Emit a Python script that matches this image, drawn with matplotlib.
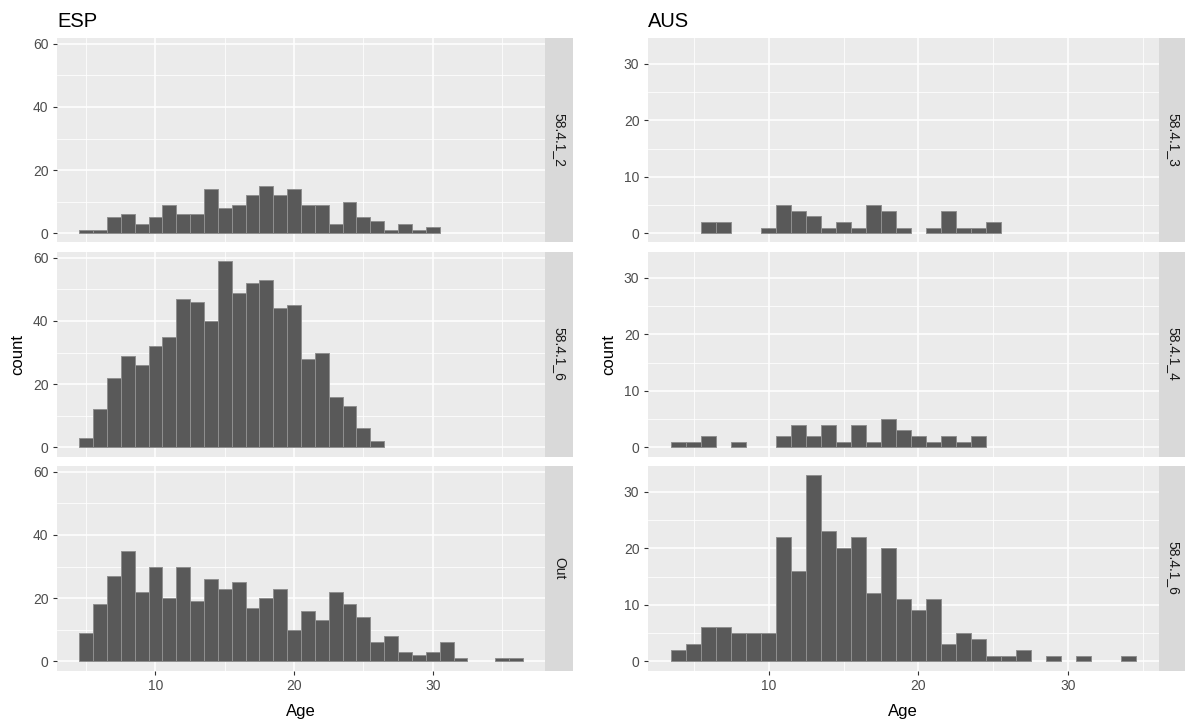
import matplotlib.pyplot as plt
import numpy as np

plt.rcParams['font.family'] = ['Liberation Sans', 'DejaVu Sans']

# ESP: one bin per year of age, centred on 5..36
esp_age = list(range(5, 37))
esp_strips = ['58.4.1_2', '58.4.1_6', 'Out']
esp_r1 = [1, 1, 5, 6, 3, 5, 9, 6, 6, 14, 8, 9, 12, 15, 12, 14, 9, 9, 3, 10, 5, 4, 1, 3, 1, 2,
          0, 0, 0, 0, 0, 0]
esp_r2 = [3, 12, 22, 29, 26, 32, 35, 47, 46, 40, 59, 49, 52, 53, 44, 45, 28, 30, 16, 13, 6, 2,
          0, 0, 0, 0, 0, 0, 0, 0, 0, 0]
esp_r3 = [9, 18, 27, 35, 22, 30, 20, 30, 19, 26, 23, 25, 17, 20, 23, 10, 16, 13, 22, 18, 14, 6,
          8, 3, 2, 3, 6, 1, 0, 0, 1, 1]

# AUS: bins centred on 4..34
aus_age = list(range(4, 35))
aus_strips = ['58.4.1_3', '58.4.1_4', '58.4.1_6']
aus_r1 = [0, 0, 2, 2, 0, 0, 1, 5, 4, 3, 1, 2, 1, 5, 4, 1, 0, 1, 4, 1, 1, 2,
          0, 0, 0, 0, 0, 0, 0, 0, 0]
aus_r2 = [1, 1, 2, 0, 1, 0, 0, 2, 4, 2, 4, 1, 4, 1, 5, 3, 2, 1, 2, 1, 2,
          0, 0, 0, 0, 0, 0, 0, 0, 0, 0]
aus_r3 = [2, 3, 6, 6, 5, 5, 5, 22, 16, 33, 23, 20, 22, 12, 20, 11, 9, 11, 3, 5, 4, 1, 1, 2,
          0, 1, 0, 1, 0, 0, 1]

W, H = 1185, 728
fig = plt.figure(figsize=(W / 100, H / 100), dpi=100)

row_tops = [37.7, 251.7, 465.7]
row_h = 204.8


def px_axes(x0, y0, x1, y1):
    return fig.add_axes([x0 / W, 1 - y1 / H, (x1 - x0) / W, (y1 - y0) / H])


def panel(x0, x1, top, ages, counts, xlim, ylim, yticks, yminor, strip, show_x):
    ax = px_axes(x0, top, x1, top + row_h)
    ax.set_facecolor('#EBEBEB')
    ages = np.array(ages)
    counts = np.array(counts)
    keep = counts > 0
    ax.bar(ages[keep], counts[keep], width=1.0, color='#595959',
           edgecolor='#8f8f8f', linewidth=0.7, zorder=3)
    ax.set_xlim(*xlim)
    ax.set_ylim(*ylim)
    ax.set_xticks([10, 20, 30])
    ax.set_xticks([5, 15, 25, 35], minor=True)
    ax.set_yticks(yticks)
    ax.set_yticks(yminor, minor=True)
    ax.grid(which='major', color='white', linewidth=1.1, zorder=1)
    ax.grid(which='minor', color='white', linewidth=0.55, zorder=1)
    for s in ax.spines.values():
        s.set_visible(False)
    ax.tick_params(which='major', length=3.2, width=0.8, color='#333333',
                   labelsize=10, labelcolor='#4D4D4D', pad=3)
    ax.tick_params(which='minor', length=0)
    if not show_x:
        # only the bottom facet row carries x ticks
        ax.tick_params(axis='x', which='major', length=0, labelbottom=False)
    # facet strip on the right
    sx = px_axes(x1, top, min(x1 + 28, W), top + row_h)
    sx.set_facecolor('#D9D9D9')
    sx.set_xticks([])
    sx.set_yticks([])
    for s in sx.spines.values():
        s.set_visible(False)
    sx.text(0.5 if x1 + 28 <= W else 0.55, 0.5, strip, rotation=270, ha='center', va='center',
            fontsize=10, color='#1A1A1A', transform=sx.transAxes)
    return ax


esp_rows = [esp_r1, esp_r2, esp_r3]
aus_rows = [aus_r1, aus_r2, aus_r3]

for i in range(3):
    panel(57, 545, row_tops[i], esp_age, esp_rows[i], (2.9, 38.1), (-2.95, 61.95),
          [0, 20, 40, 60], [10, 30, 50], esp_strips[i], i == 2)
    panel(648, 1159, row_tops[i], aus_age, aus_rows[i], (1.95, 36.05), (-1.65, 34.65),
          [0, 10, 20, 30], [5, 15, 25], aus_strips[i], i == 2)

# titles and axis titles
fig.text(57 / W, 1 - 27 / H, 'ESP', fontsize=14.5, color='black', va='baseline')
fig.text(648 / W, 1 - 27 / H, 'AUS', fontsize=14.5, color='black', va='baseline')
fig.text(301 / W, 1 - 716 / H, 'Age', fontsize=12, ha='center', va='baseline')
fig.text(903 / W, 1 - 716 / H, 'Age', fontsize=12, ha='center', va='baseline')
fig.text(18 / W, 1 - 354 / H, 'count', fontsize=12, rotation=90, ha='center', va='center')
fig.text(609 / W, 1 - 354 / H, 'count', fontsize=12, rotation=90, ha='center', va='center')

fig.savefig('out.png', dpi=100)
